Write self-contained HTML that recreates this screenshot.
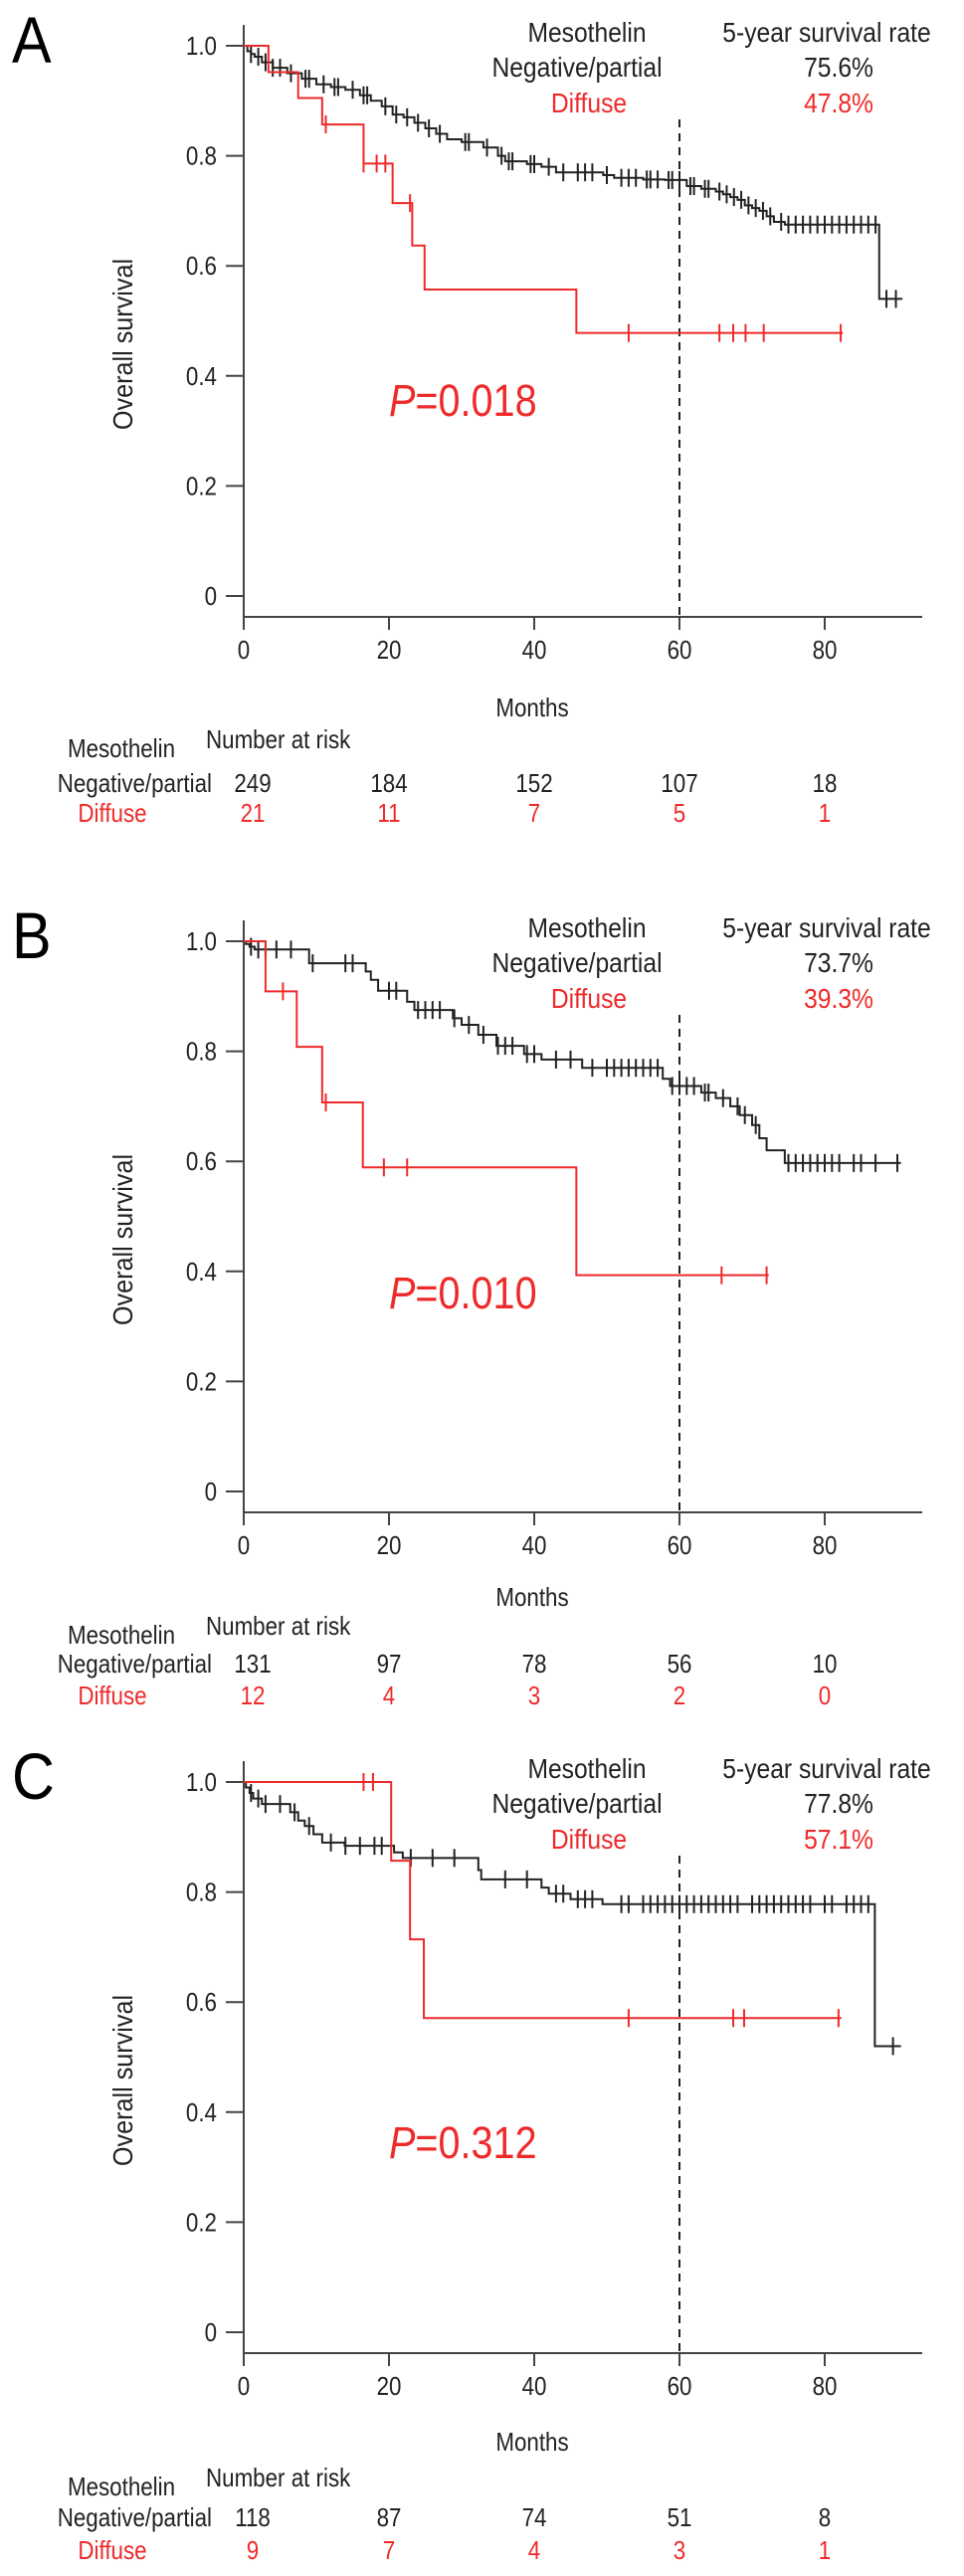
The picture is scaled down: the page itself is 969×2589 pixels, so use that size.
<!DOCTYPE html>
<html><head><meta charset="utf-8">
<style>
html,body{margin:0;padding:0;background:#fff;}
svg{display:block;font-family:"Liberation Sans",Arial,sans-serif;}
</style></head>
<body>
<svg id="fig" width="969" height="2589" viewBox="0 0 969 2589" xmlns="http://www.w3.org/2000/svg"></svg>
<script>
// ---------- Data ----------
const xTicks = [0, 20, 40, 60, 80];
const yTicks = [0, 0.2, 0.4, 0.6, 0.8, 1.0];
const yTickLabels = ["0", "0.2", "0.4", "0.6", "0.8", "1.0"];

// Panel A
const aNegT = [0.5,1,1.5,2.5,4,6,8,10,12,14,16,17.5,19,20.5,22,23.5,25,26.5,28,30,33,35,36,39,41,43,49.5,51,55,58,61,63,65,66,67,68,69,70,71,72,73,74.5,87.5];
const aNegS = [0.99,0.985,0.98,0.97,0.96,0.95,0.94,0.93,0.925,0.92,0.91,0.90,0.89,0.875,0.87,0.86,0.85,0.84,0.83,0.825,0.815,0.80,0.79,0.785,0.78,0.77,0.765,0.76,0.757,0.756,0.745,0.74,0.735,0.73,0.725,0.72,0.71,0.705,0.70,0.69,0.68,0.675,0.54];
const aNegCens = [1,2,3,4,5,6.5,8.5,9,11,12.5,13,15,16.5,17,19.5,21,22.5,24,25.5,27,30.5,31,33.5,35.5,36.5,37,39.5,40,42,44,46,47,48,50,52,53,54,55.5,56,57,58.5,59,60,61.5,62,63.5,64,65.5,66.5,67.5,68.5,69.5,70.5,71.5,72.5,74,75,76,77,78,79,80,81,82,83,84,85,86,87,88.5,89.8];
const aNegEnd = 90.7;
const aDifT = [3.4,7.5,10.8,16.5,20.5,23.2,24.9,45.8];
const aDifS = [0.952,0.905,0.857,0.786,0.714,0.637,0.557,0.478];
const aDifCens = [11.3,16.5,18.3,19.5,22.9,53,65.5,67.4,69.1,71.6,82.2];
const aDifEnd = 82.5;
const aRiskNeg = ["249","184","152","107","18"];
const aRiskDif = ["21","11","7","5","1"];
const aRates = ["75.6%","47.8%"];
const aP = "0.018";

// Panel B
const bNegT = [0.3,0.8,1.5,9,16.8,17.5,18.5,22.5,23.5,28.8,30,32.3,34.8,38.6,41,46.6,57.7,58.7,63,65,67,68.3,70,71,72,74.5];
const bNegS = [0.995,0.99,0.985,0.96,0.945,0.93,0.91,0.89,0.875,0.86,0.848,0.83,0.81,0.795,0.785,0.77,0.75,0.737,0.725,0.715,0.70,0.684,0.666,0.642,0.62,0.597];
const bNegCens = [1,2,3,4.5,6.5,9.5,14,15,20,21,24,25,26,27,29,31,33,35,36,37,39,40,43,45,48,50,51,52,53,54,55,56,57,59,60,61,62,63.5,64,66,68,69,70.5,75,76,77,78,79,80,81,82,84,85,87,90];
const bNegEnd = 90.5;
const bDifT = [3,7.3,10.8,16.4,45.8];
const bDifS = [0.909,0.808,0.707,0.589,0.393];
const bDifCens = [5.4,11.3,19.3,22.5,65.8,72];
const bDifEnd = 72.3;
const bRiskNeg = ["131","97","78","56","10"];
const bRiskDif = ["12","4","3","2","0"];
const bRates = ["73.7%","39.3%"];
const bP = "0.010";

// Panel C
const cNegT = [0.3,0.8,1.3,2.5,6.4,7.5,8.4,9.6,10.8,13.9,20.7,21.9,32.3,32.7,41,42,45,49.4,86.9];
const cNegS = [0.99,0.98,0.97,0.96,0.945,0.93,0.92,0.905,0.89,0.884,0.872,0.862,0.84,0.823,0.808,0.797,0.787,0.778,0.52];
const cNegCens = [1,2,3,5,7,9,12,14,16,18,19,23,26,29,36,39,43,44,46,47,48,52,53,55,56,57,58,59,60,61,62,63,64,65,66,67,68,70,71,72,73,74,75,76,77,78,80,81,83,84,85,86,89.4];
const cNegEnd = 90.5;
const cDifT = [20.3,22.9,24.8];
const cDifS = [0.857,0.714,0.571];
const cDifCens = [16.5,17.8,53,67.4,68.9,81.9];
const cDifEnd = 82.3;
const cRiskNeg = ["118","87","74","51","8"];
const cRiskDif = ["9","7","4","3","1"];
const cRates = ["77.8%","57.1%"];
const cP = "0.312";

// ---------- Drawing ----------
const NS = "http://www.w3.org/2000/svg";
const svg = document.getElementById("fig");
const RED = "#ee2a2a", BLK = "#222";
const X0 = 245, PXM = 7.3;
function xs(m){ return X0 + m * PXM; }

function mk(tag, attrs, parent, text){
  const e = document.createElementNS(NS, tag);
  for (const k in attrs) e.setAttribute(k, attrs[k]);
  if (text !== undefined) e.textContent = text;
  (parent || svg).appendChild(e);
  return e;
}
// condensed text: placed via transform with horizontal squeeze
function txt(x, y, size, anchor, fill, parent, text, sx){
  return mk("text", {x: 0, y: 0, "font-size": size, "text-anchor": anchor, fill: fill,
    transform: "translate(" + x + "," + y + ") scale(" + (sx || 0.86) + ",1)"}, parent, text);
}

function stepPath(T, S, end, ys){
  let d = "M" + xs(0) + "," + ys(1);
  for (let i = 0; i < T.length; i++){
    d += " H" + xs(T[i]) + " V" + ys(S[i]);
  }
  d += " H" + xs(end);
  return d;
}
function survAt(T, S, t){
  let s = 1;
  for (let i = 0; i < T.length; i++){ if (T[i] <= t) s = S[i]; }
  return s;
}

function panel(o){
  const g = mk("g", {});
  
  
  const top = o.top;
  const ys = s => top + (1 - s) * 553;
  const axisY = top + 574;

  const letter = txt(12, top + 17, 66, "start", "#000", g, o.letter, 0.9);
  
  

  const yAx = mk("line", {x1: X0, y1: top - 21, x2: X0, y2: axisY, stroke: "#444", "stroke-width": 2}, g);
  
  
  const xAx = mk("line", {x1: X0, y1: axisY, x2: 927, y2: axisY, stroke: "#444", "stroke-width": 2}, g);
  
  

  yTicks.forEach((v, i) => {
    const t = mk("line", {x1: 227, y1: ys(v), x2: X0, y2: ys(v), stroke: "#444", "stroke-width": 2}, g);
    
    
    const l = txt(218, ys(v) + 9, 26, "end", "#222", g, yTickLabels[i]);
    
    
  });
  xTicks.forEach(v => {
    const t = mk("line", {x1: xs(v), y1: axisY, x2: xs(v), y2: axisY + 13, stroke: "#444", "stroke-width": 2}, g);
    
    
    const l = txt(xs(v), axisY + 42, 26, "middle", "#222", g, String(v));
    
    
  });

  const yt = mk("text", {x: 0, y: 0, "font-size": 28, "text-anchor": "middle", fill: "#222",
    transform: "translate(133," + (top + 300) + ") rotate(-90) scale(0.9,1)"}, g, "Overall survival");
  
  
  const xt = txt(535, axisY + o.monthsOff, 26, "middle", "#222", g, "Months");
  
  

  const dl = mk("line", {x1: xs(60), y1: top + 74, x2: xs(60), y2: axisY, stroke: "#222", "stroke-width": 2, "stroke-dasharray": "8,6"}, g);
  
  

  const series = [
    {T: o.negT, S: o.negS, end: o.negEnd, cens: o.negCens, col: BLK, nm: "negative-partial"},
    {T: o.difT, S: o.difS, end: o.difEnd, cens: o.difCens, col: RED, nm: "diffuse"}
  ];
  series.forEach(sr => {
    const p = mk("path", {d: stepPath(sr.T, sr.S, sr.end, ys), fill: "none", stroke: sr.col, "stroke-width": 2}, g);
    
    
    sr.cens.forEach(t => {
      const yy = ys(survAt(sr.T, sr.S, t));
      const c = mk("line", {x1: xs(t), y1: yy - 9, x2: xs(t), y2: yy + 9, stroke: sr.col, "stroke-width": 2}, g);
      
      
    });
  });

  const lg = mk("g", {}, g);
  
  
  const h1 = txt(590, top - 4, 28, "middle", "#222", lg, "Mesothelin", 0.88);
  
  
  const h2 = txt(831, top - 4, 28, "middle", "#222", lg, "5-year survival rate", 0.88);
  
  
  const n1 = txt(580, top + 31, 28, "middle", "#222", lg, "Negative/partial", 0.88);
  
  
  const n2 = txt(843, top + 31, 28, "middle", "#222", lg, o.rates[0], 0.88);
  
  
  const d1 = txt(592, top + 67, 28, "middle", RED, lg, "Diffuse", 0.88);
  
  
  const d2 = txt(843, top + 67, 28, "middle", RED, lg, o.rates[1], 0.88);
  
  

  const pv = mk("text", {x: 0, y: 0, "font-size": 45, fill: RED,
    transform: "translate(391," + (top + o.pOff) + ") scale(0.88,1)"}, g);
  
  
  mk("tspan", {"font-style": "italic"}, pv, "P");
  mk("tspan", {}, pv, "=" + o.p);

  const rt = mk("g", {}, g);
  
  
  const r = o.risk;
  const m1 = txt(122, axisY + r[0] + 9, 26, "middle", "#222", rt, "Mesothelin");
  
  
  const m2 = txt(207, axisY + r[0], 26, "start", "#222", rt, "Number at risk");
  
  
  const rn = txt(213, axisY + r[1] + 9, 26, "end", "#222", rt, "Negative/partial");
  
  
  const rd = txt(113, axisY + r[2] + 9, 26, "middle", RED, rt, "Diffuse");
  
  
  xTicks.forEach((v, i) => {
    const a = txt(xs(v) + (i === 0 ? 9 : 0), axisY + r[1] + 9, 26, "middle", "#222", rt, o.riskNeg[i]);
    
    
    const b = txt(xs(v) + (i === 0 ? 9 : 0), axisY + r[2] + 9, 26, "middle", RED, rt, o.riskDif[i]);
    
    
  });
}

panel({name: "panel-a", letter: "A", top: 46, negT: aNegT, negS: aNegS, negEnd: aNegEnd, negCens: aNegCens,
  difT: aDifT, difS: aDifS, difEnd: aDifEnd, difCens: aDifCens, riskNeg: aRiskNeg, riskDif: aRiskDif,
  rates: aRates, p: aP, pOff: 372, monthsOff: 100, risk: [132, 167, 197]});
panel({name: "panel-b", letter: "B", top: 946, negT: bNegT, negS: bNegS, negEnd: bNegEnd, negCens: bNegCens,
  difT: bDifT, difS: bDifS, difEnd: bDifEnd, difCens: bDifCens, riskNeg: bRiskNeg, riskDif: bRiskDif,
  rates: bRates, p: bP, pOff: 369, monthsOff: 94, risk: [123, 152, 184]});
panel({name: "panel-c", letter: "C", top: 1791, negT: cNegT, negS: cNegS, negEnd: cNegEnd, negCens: cNegCens,
  difT: cDifT, difS: cDifS, difEnd: cDifEnd, difCens: cDifCens, riskNeg: cRiskNeg, riskDif: cRiskDif,
  rates: cRates, p: cP, pOff: 378, monthsOff: 98, risk: [134, 165, 198]});
</script>
</body></html>
